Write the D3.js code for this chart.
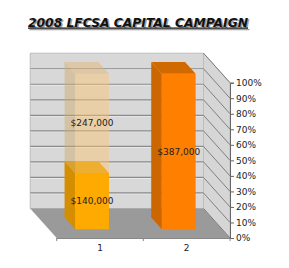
<!DOCTYPE html>
<html>
<head>
<meta charset="utf-8">
<script src="https://cdn.jsdelivr.net/npm/d3@7"></script>
<style>
  body { margin: 0; background: #fff; }
  svg { display: block; }
</style>
</head>
<body>
<script>
// data
const categories = ["1", "2"]
const raised = [140000, 387000]
const remaining = [247000, 0]
const valueTicks = [0, 0.1, 0.2, 0.3, 0.4, 0.5, 0.6, 0.7, 0.8, 0.9, 1]
const title = "2008 LFCSA CAPITAL CAMPAIGN"

const W = 289, H = 268
const DX = -26.5, DY = -29.5   // depth offset of the back wall
const Z0 = 0.3, Z1 = 0.7       // bar depth

let svg = d3.select("body").append("svg")
    .attr("width", W)
    .attr("height", H)

let x = d3.scaleBand().domain(categories).range([56.7, 230])
let y = d3.scaleLinear().domain([0, 1]).range([238, 82.7])

function p(xv, yv, z) {
    return [xv + z * DX, y(yv) + z * DY]
}
function poly(pts, fill, opts) {
    let el = svg.append("polygon")
        .attr("points", pts.map(d => d.join(",")).join(" "))
        .attr("fill", fill)
    if (opts) for (let k in opts) el.attr(k, opts[k])
    return el
}

const xl = x.range()[0], xr = x.range()[1]

// back wall
poly([p(xl, 0, 1), p(xl, 1, 1), p(xr, 1, 1), p(xr, 0, 1)], "#d8d8d8", {stroke: "#bdbdbd", "stroke-width": 1})
// floor
poly([p(xl, 0, 1), p(xr, 0, 1), p(xr, 0, 0), p(xl, 0, 0)], "#9a9a9a")
// side wall (right)
poly([p(xr, 0, 1), p(xr, 1, 1), p(xr, 1, 0), p(xr, 0, 0)], "#d6d6d6", {stroke: "#bdbdbd", "stroke-width": 1})

// gridlines on back wall and side wall
valueTicks.slice(1, -1).forEach(t => {
    let a = p(xl, t, 1), b = p(xr, t, 1)
    svg.append("line")
        .attr("x1", a[0]).attr("y1", a[1] + 0.8).attr("x2", b[0]).attr("y2", b[1] + 0.8)
        .attr("stroke", "#efefef").attr("stroke-width", 1)
    svg.append("line")
        .attr("x1", a[0]).attr("y1", a[1]).attr("x2", b[0]).attr("y2", b[1])
        .attr("stroke", "#8a8a8a").attr("stroke-width", 1.2)
})
valueTicks.forEach(t => {
    let b = p(xr, t, 1), c = p(xr, t, 0)
    svg.append("line")
        .attr("x1", b[0]).attr("y1", b[1]).attr("x2", c[0]).attr("y2", c[1])
        .attr("stroke", "#6a6a6a").attr("stroke-width", 0.8)
})

// bars
const barW = x.bandwidth() * 0.39
const styles = [
    {front: "#ffaa00", side: "#d48e00", top: "#e09c00", op: 1},
    {front: "#fec66d", side: "#d1a967", top: "#e6b46a", op: 0.45}
]
const styles2 = {front: "#ff7f00", side: "#cc6600", top: "#d06a00", op: 1}

const total = categories.map((c, i) => raised[i] + remaining[i])
const fmt = d3.format("$,")

categories.forEach((cat, i) => {
    let x0 = x(cat) + (x.bandwidth() - barW) / 2, x1 = x0 + barW
    let segs = [[0, raised[i] / total[i], raised[i]], [raised[i] / total[i], 1, remaining[i]]]
    segs.forEach((s, j) => {
        if (s[2] <= 0) return
        let st = i === 1 ? styles2 : styles[j]
        let b = s[0], t = s[1]
        let g = {"fill-opacity": st.op}
        poly([p(x0, b, Z0), p(x0, t, Z0), p(x0, t, Z1), p(x0, b, Z1)], st.side, g)
        poly([p(x0, b, Z0), p(x1, b, Z0), p(x1, t, Z0), p(x0, t, Z0)], st.front, g)
        poly([p(x0, t, Z0), p(x1, t, Z0), p(x1, t, Z1), p(x0, t, Z1)], st.top, g)
    })
})

// value labels on front faces
categories.forEach((cat, i) => {
    let cx = x(cat) + x.bandwidth() / 2 + Z0 * DX
    let segs = [[0, raised[i] / total[i], raised[i]], [raised[i] / total[i], 1, remaining[i]]]
    segs.forEach(s => {
        if (s[2] <= 0) return
        svg.append("text")
            .attr("x", cx)
            .attr("y", y((s[0] + s[1]) / 2) + Z0 * DY)
            .attr("text-anchor", "middle")
            .attr("dominant-baseline", "central")
            .attr("font-family", "DejaVu Sans, Verdana, sans-serif")
            .attr("font-size", 9)
            .attr("fill", "#222")
            .text(fmt(s[2]))
    })
})

// right value axis
let yAxis = d3.axisRight(y).tickValues(valueTicks).tickFormat(d3.format(".0%")).tickSize(4).tickPadding(2)
let ya = svg.append("g").attr("transform", `translate(${xr},0)`).call(yAxis)
ya.select(".domain").attr("stroke", "#666")
ya.selectAll(".tick line").attr("stroke", "#666")
ya.selectAll("text").attr("font-family", "DejaVu Sans, Verdana, sans-serif").attr("font-size", 9).attr("fill", "#222")

// category axis along the floor front edge
let xAxis = d3.axisBottom(x).tickSize(0).tickPadding(7)
let xa = svg.append("g").attr("transform", `translate(0,${y(0)})`).call(xAxis)
xa.select(".domain").attr("stroke", "#888").attr("d", `M${xl},0.5H${xr}`)
xa.selectAll("text").attr("font-family", "DejaVu Sans, Verdana, sans-serif").attr("font-size", 9).attr("fill", "#222")
;[xl, xl + x.bandwidth(), xr].forEach(v => {
    xa.append("line").attr("x1", v).attr("x2", v).attr("y1", 0).attr("y2", 3).attr("stroke", "#888")
})

// title with drop shadow
;[[1.5, 1.5, "#a0a0a0"], [0, 0, "#111"]].forEach(d => {
    svg.append("text")
        .attr("x", 138 + d[0])
        .attr("y", 26.5 + d[1])
        .attr("text-anchor", "middle")
        .attr("font-family", "DejaVu Sans, Verdana, sans-serif")
        .attr("font-weight", "bold")
        .attr("font-style", "italic")
        .attr("font-size", 12.5)
        .attr("text-decoration", "underline")
        .attr("textLength", 220)
        .attr("lengthAdjust", "spacingAndGlyphs")
        .attr("fill", d[2])
        .text(title)
})
</script>
</body>
</html>
